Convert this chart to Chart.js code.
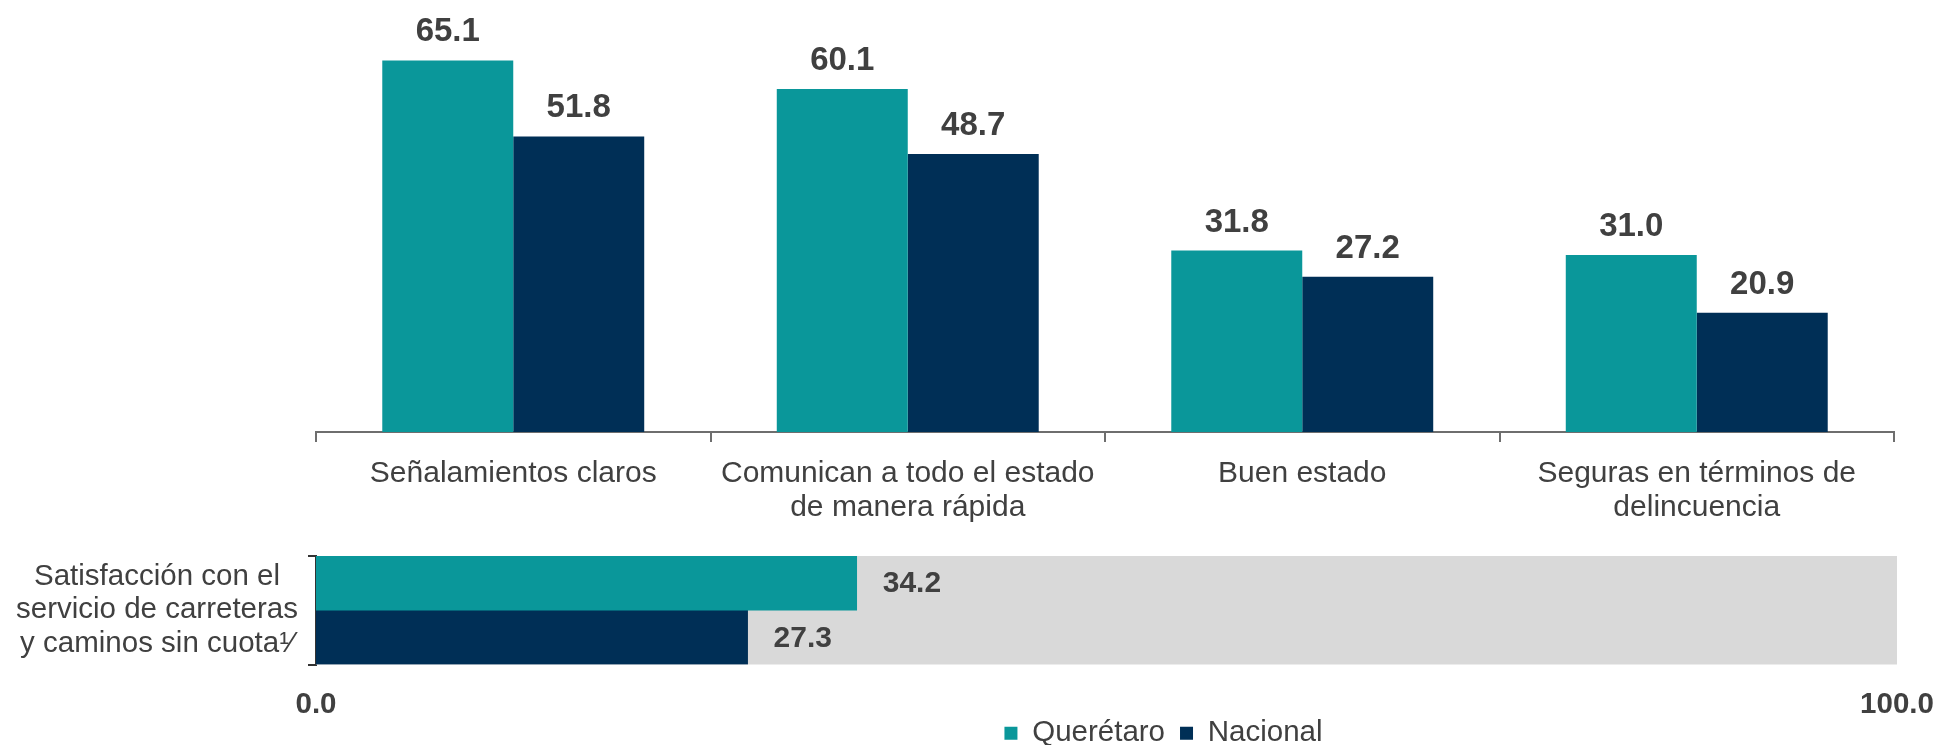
<!DOCTYPE html>
<html lang="es">
<head>
<meta charset="utf-8">
<title>Satisfacción con carreteras y caminos sin cuota</title>
<script src="https://cdn.jsdelivr.net/npm/chart.js@4.4.1/dist/chart.umd.min.js"></script>
<style>
	html, body { margin: 0; padding: 0; background: #fff; overflow: hidden; }
	#wrap { position: relative; width: 1941px; height: 745px; overflow: hidden; }
	#topCanvas { position: absolute; left: 0; top: 0; }
	#bottomCanvas { position: absolute; left: 0; top: 527px; }
</style>
</head>
<body>
<div id="wrap">
	<canvas id="topCanvas" width="1941" height="540"></canvas>
	<canvas id="bottomCanvas" width="1941" height="252"></canvas>
</div>
<script>
// datos
const series = ['Querétaro', 'Nacional'];
const categorias = [
	['Señalamientos claros'],
	['Comunican a todo el estado', 'de manera rápida'],
	['Buen estado'],
	['Seguras en términos de', 'delincuencia']
];
const queretaro = [65.1, 60.1, 31.8, 31.0];
const nacional = [51.8, 48.7, 27.2, 20.9];

const satisfaccionEtiqueta = ['Satisfacción con el', 'servicio de carreteras', 'y caminos sin cuota¹⁄'];
const satisfaccionQro = [34.2];
const satisfaccionNal = [27.3];
const escalaTicks = [0, 100];

const FONT = '"Liberation Sans", Arial, sans-serif';
const TEAL = '#0A979A';
const NAVY = '#002F56';
const GRIS = '#D9D9D9';
const TEXTO = '#404040';

// etiquetas de valor sobre / junto a las barras
const valueLabels = {
	id: 'valueLabels',
	afterDatasetsDraw(chart, args, opts) {
		const ctx = chart.ctx;
		ctx.save();
		ctx.fillStyle = opts.color;
		ctx.font = `bold ${opts.size}px ${FONT}`;
		chart.data.datasets.forEach((ds, i) => {
			chart.getDatasetMeta(i).data.forEach((bar, j) => {
				const txt = ds.data[j].toFixed(1);
				if (opts.horizontal) {
					ctx.textAlign = 'left';
					ctx.textBaseline = 'middle';
					ctx.fillText(txt, bar.x + opts.offset, bar.y + 1);
				} else {
					ctx.textAlign = 'center';
					ctx.textBaseline = 'alphabetic';
					ctx.fillText(txt, bar.x, bar.y - opts.offset);
				}
			});
		});
		ctx.restore();
	}
};

// barra gris de fondo (0 a 100)
const fondoBarra = {
	id: 'fondoBarra',
	beforeDatasetsDraw(chart, args, opts) {
		const x = chart.scales.x;
		const a = chart.getDatasetMeta(0).data[0];
		const b = chart.getDatasetMeta(1).data[0];
		if (!a || !b) return;
		const top = a.y - a.height / 2;
		const bottom = b.y + b.height / 2;
		const x0 = x.getPixelForValue(escalaTicks[0]);
		const x1 = x.getPixelForValue(escalaTicks[1]);
		const ctx = chart.ctx;
		ctx.save();
		ctx.fillStyle = opts.color;
		ctx.fillRect(x0, top, x1 - x0, bottom - top);
		ctx.restore();
	}
};

// mueve la leyenda (derecha / arriba)
const legendShift = {
	id: 'legendShift',
	afterLayout(chart, args, opts) {
		const lg = chart.legend;
		if (!lg) return;
		lg.left += opts.dx;
		lg.right += opts.dx;
		lg.top += opts.dy;
		lg.bottom += opts.dy;
	}
};

new Chart(document.getElementById('topCanvas'), {
	type: 'bar',
	data: {
		labels: categorias,
		datasets: [
			{ label: series[0], data: queretaro, backgroundColor: TEAL },
			{ label: series[1], data: nacional, backgroundColor: NAVY }
		]
	},
	options: {
		responsive: false,
		animation: false,
		layout: { padding: { left: 316, right: 47, top: 4, bottom: 0 } },
		datasets: { bar: { categoryPercentage: 0.664, barPercentage: 1 } },
		plugins: {
			legend: { display: false },
			tooltip: { enabled: false },
			valueLabels: { color: TEXTO, size: 33, offset: 19 }
		},
		scales: {
			x: {
				grid: { offset: true, drawOnChartArea: false, tickLength: 10, color: '#6e6e6e', lineWidth: 2 },
				border: { color: '#6e6e6e', width: 2 },
				ticks: {
					color: TEXTO,
					font: { family: FONT, size: 30, lineHeight: 1.12 },
					padding: 15,
					maxRotation: 0,
					autoSkip: false
				},
				afterFit: s => { s.height = 108; }
			},
			y: { display: false, min: 0, max: 75 }
		}
	},
	plugins: [valueLabels]
});

new Chart(document.getElementById('bottomCanvas'), {
	type: 'bar',
	data: {
		labels: [satisfaccionEtiqueta],
		datasets: [
			{ label: series[0], data: satisfaccionQro, backgroundColor: TEAL },
			{ label: series[1], data: satisfaccionNal, backgroundColor: NAVY }
		]
	},
	options: {
		indexAxis: 'y',
		responsive: false,
		animation: false,
		layout: { padding: { left: 0, right: 44, top: 29, bottom: 0 } },
		datasets: { bar: { categoryPercentage: 1, barPercentage: 1 } },
		plugins: {
			legend: {
				position: 'bottom',
				labels: {
					boxWidth: 13,
					boxHeight: 13,
					padding: 15,
					color: TEXTO,
					font: { family: FONT, size: 29.5 }
				}
			},
			tooltip: { enabled: false },
			valueLabels: { color: TEXTO, size: 30, offset: 26, horizontal: true },
			fondoBarra: { color: GRIS },
			legendShift: { dx: 215, dy: -21 }
		},
		scales: {
			x: {
				min: escalaTicks[0],
				max: escalaTicks[1],
				afterBuildTicks: s => { s.ticks = escalaTicks.map(v => ({ value: v })); },
				grid: { display: false },
				border: { display: false },
				ticks: {
					color: TEXTO,
					font: { family: FONT, size: 29.5, weight: 'bold' },
					padding: 15,
					maxRotation: 0,
					callback: v => Number(v).toFixed(1)
				},
				afterFit: s => {
					s.height = 60;
					s.paddingLeft = 0;
					s.paddingRight = 0;
				}
			},
			y: {
				grid: { offset: true, drawOnChartArea: false, tickLength: 8, color: '#333333', lineWidth: 2 },
				border: { color: '#333333', width: 2 },
				ticks: {
					color: TEXTO,
					font: { family: FONT, size: 29.5, lineHeight: 1.13 },
					crossAlign: 'center',
					padding: 10
				},
				afterFit: s => {
					s.width = 316;
					s.paddingTop = 0;
					s.paddingBottom = 0;
				}
			}
		}
	},
	plugins: [fondoBarra, valueLabels, legendShift]
});
</script>
</body>
</html>
